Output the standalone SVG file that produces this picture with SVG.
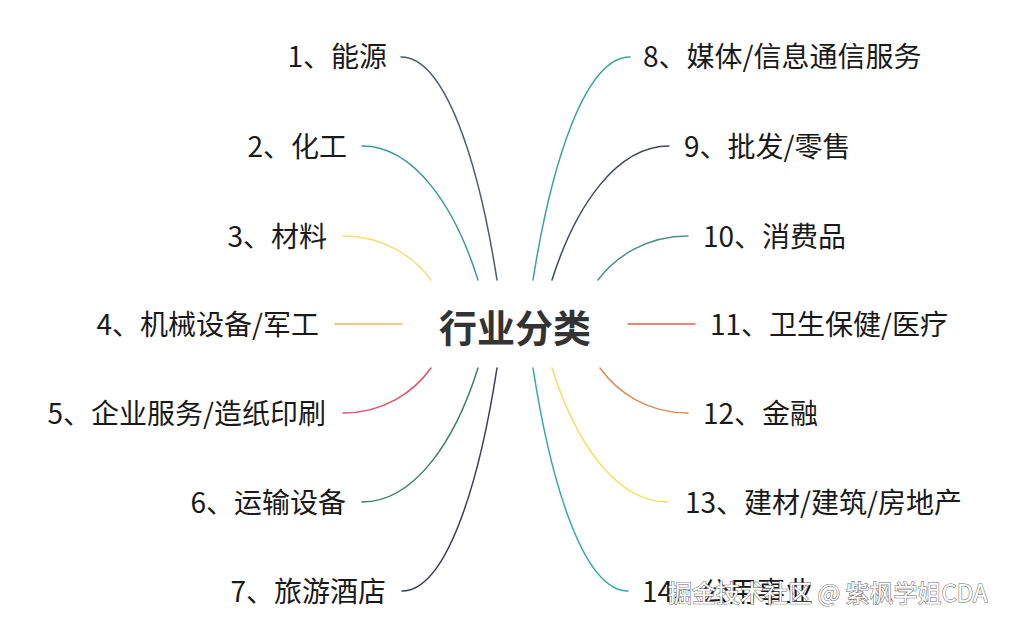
<svg xmlns="http://www.w3.org/2000/svg" width="1021" height="633" viewBox="0 0 1021 633">
<style>
.lbl{font-family:"Noto Sans CJK SC","Noto Sans",sans-serif;font-size:28px;fill:#1a1a1a}
.end{text-anchor:end}
.title{font-family:"Noto Sans CJK SC","Noto Sans",sans-serif;font-size:38px;font-weight:bold;fill:#333;text-anchor:middle}
.wm{font-family:"Noto Sans CJK SC","Noto Sans",sans-serif;font-size:24px;fill:#fff;stroke:#6a6a6a;stroke-width:1.1px;paint-order:stroke}
.c{fill:none;stroke-width:1.5;stroke-linecap:round}
</style>
<rect width="1021" height="633" fill="#fff"/>
<g id="connectors">
<path class="c" stroke="#4d5b6b" d="M401,57 C444.2,57 477.8,157.4 497,280"/>
<path class="c" stroke="#3b9a9a" d="M362,146 C414.2,146 454.8,206.3 478,280"/>
<path class="c" stroke="#ece27a" d="M343,236 C382.6,236 413.4,255.8 431,280"/>
<path class="c" stroke="#eab95a" d="M335,324 L402,324"/>
<path class="c" stroke="#e0506a" d="M343,413 C382.6,413 413.4,392.8 431,368"/>
<path class="c" stroke="#3e7f6e" d="M362,502 C414.2,502 454.8,441.7 478,368"/>
<path class="c" stroke="#3a3d55" d="M402,591 C444.8,591 478,490.7 497,368"/>
<path class="c" stroke="#3aa596" d="M630,57 C586.4,57 552.4,157.4 533,280"/>
<path class="c" stroke="#404a5a" d="M669,146 C616.4,146 575.4,206.3 552,280"/>
<path class="c" stroke="#4f8f85" d="M688,236 C647.5,236 616,255.8 598,280"/>
<path class="c" stroke="#e8604e" d="M628,324 L695,324"/>
<path class="c" stroke="#d99055" d="M688,413 C648.4,413 617.6,392.8 600,368"/>
<path class="c" stroke="#ece45a" d="M668,502 C615.8,502 575.2,441.7 552,368"/>
<path class="c" stroke="#35a8a8" d="M628,591 C585.3,591 552,490.7 533,368"/>
</g>
<g id="center"><text class="title" x="515" y="342">行业分类</text></g>
<g id="n1"><text class="lbl end" x="387" y="67">1、能源</text></g>
<g id="n2"><text class="lbl end" x="347" y="157">2、化工</text></g>
<g id="n3"><text class="lbl end" x="327" y="247">3、材料</text></g>
<g id="n4"><text class="lbl end" x="319" y="335">4、机械设备/军工</text></g>
<g id="n5"><text class="lbl end" x="326" y="424">5、企业服务/造纸印刷</text></g>
<g id="n6"><text class="lbl end" x="346" y="513">6、运输设备</text></g>
<g id="n7"><text class="lbl end" x="386" y="602">7、旅游酒店</text></g>
<g id="n8"><text class="lbl" x="643" y="67">8、媒体/信息通信服务</text></g>
<g id="n9"><text class="lbl" x="684" y="157">9、批发/零售</text></g>
<g id="n10"><text class="lbl" x="703" y="247">10、消费品</text></g>
<g id="n11"><text class="lbl" x="710" y="335">11、卫生保健/医疗</text></g>
<g id="n12"><text class="lbl" x="703" y="424">12、金融</text></g>
<g id="n13"><text class="lbl" x="685" y="513">13、建材/建筑/房地产</text></g>
<g id="n14"><text class="lbl" x="642" y="602">14、公用事业</text></g>
<g id="watermark"><text class="wm" x="668" y="602">掘金技术社区 @ 紫枫学姐CDA</text></g>
</svg>
